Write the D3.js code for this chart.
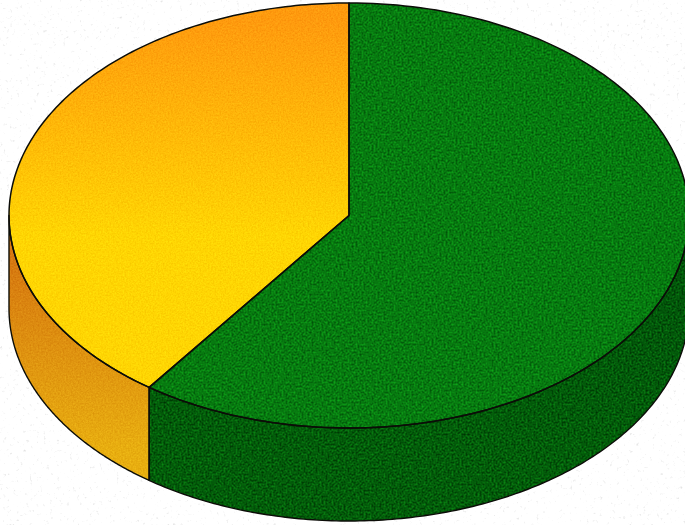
<!DOCTYPE html>
<html>
<head>
<meta charset="utf-8">
<script src="https://cdn.jsdelivr.net/npm/d3@7"></script>
<style>
  html, body { margin: 0; padding: 0; background: #fff; overflow: hidden; }
  svg { display: block; }
</style>
</head>
<body>
<script>
const width = 685,
      height = 525;

const categories = ["Green", "Orange"];
const values = [60, 40];

const topColors = {
    Green: ["#077a10", "#077a10"],
    Orange: ["#ff9a0e", "#ffd503"]
};
const sideColors = {
    Green: ["#02540a", "#035c0a"],
    Orange: ["#d67810", "#e8ae10"]
};

const cx = 349, cy = 215.5,
      rx = 340, ry = 212.5,
      depth = 93;

const svg = d3.select("body").append("svg")
    .attr("width", width)
    .attr("height", height);

const defs = svg.append("defs");

function addGradient(id, stops, y1, y2) {
    const g = defs.append("linearGradient")
        .attr("id", id)
        .attr("gradientUnits", "userSpaceOnUse")
        .attr("x1", 0).attr("x2", 0)
        .attr("y1", y1).attr("y2", y2);
    g.append("stop").attr("offset", 0).attr("stop-color", stops[0]);
    g.append("stop").attr("offset", 1).attr("stop-color", stops[1]);
}

categories.forEach(c => {
    addGradient(`top-${c}`, topColors[c], 20, 235);
    addGradient(`side-${c}`, sideColors[c], 260, 450);
});

// printed grain on the slices, amount per colour channel
function addGrain(id, freq, amounts) {
    const f = defs.append("filter")
        .attr("id", id)
        .attr("filterUnits", "userSpaceOnUse")
        .attr("x", 0).attr("y", 0)
        .attr("width", width).attr("height", height)
        .attr("color-interpolation-filters", "sRGB");
    f.append("feTurbulence")
        .attr("type", "fractalNoise")
        .attr("baseFrequency", freq)
        .attr("numOctaves", 2)
        .attr("seed", 4)
        .attr("result", "noise");
    const row = a => `${a} 0 0 0 ${0.5 - a / 2}`;
    f.append("feColorMatrix")
        .attr("in", "noise")
        .attr("type", "matrix")
        .attr("values", `${row(amounts[0])}  ${row(amounts[1])}  ${row(amounts[2])}  0 0 0 0 1`)
        .attr("result", "grain");
    f.append("feComposite")
        .attr("in", "SourceGraphic")
        .attr("in2", "grain")
        .attr("operator", "arithmetic")
        .attr("k1", 0).attr("k2", 1).attr("k3", 1).attr("k4", -0.5)
        .attr("result", "mixed");
    f.append("feComposite")
        .attr("in", "mixed")
        .attr("in2", "SourceAlpha")
        .attr("operator", "in");
}
addGrain("grain-green", 0.5, [0.08, 0.5, 0.1]);
addGrain("grain-orange", 0.6, [0.1, 0.16, 0.08]);

// faint paper specks
const specks = defs.append("filter")
    .attr("id", "specks")
    .attr("filterUnits", "userSpaceOnUse")
    .attr("x", 0).attr("y", 0)
    .attr("width", width).attr("height", height)
    .attr("color-interpolation-filters", "sRGB");
specks.append("feTurbulence")
    .attr("type", "fractalNoise")
    .attr("baseFrequency", 0.3)
    .attr("numOctaves", 2)
    .attr("seed", 9)
    .attr("result", "noise");
specks.append("feColorMatrix")
    .attr("in", "noise")
    .attr("type", "matrix")
    .attr("values", "0 0 0 0 0.7  0 0 0 0 0.7  0 0 0 0 0.7  1.4 0 0 0 -0.92")
    .attr("result", "dots");
specks.append("feMerge").call(m => {
    m.append("feMergeNode").attr("in", "SourceGraphic");
    m.append("feMergeNode").attr("in", "dots");
});

const x = d3.scaleLinear().domain([-1, 1]).range([cx - rx, cx + rx]);
const y = d3.scaleLinear().domain([-1, 1]).range([cy - ry, cy + ry]);

const pie = d3.pie().sort(null).value(d => d.value);
const slices = pie(categories.map((name, i) => ({name, value: values[i]})));

const rimPoints = (a0, a1) => d3.range(0, 161)
    .map(i => a0 + (a1 - a0) * i / 160)
    .map(a => [x(Math.sin(a)), y(-Math.cos(a))]);

function topPath(d) {
    return d3.line()([[x(0), y(0)], ...rimPoints(d.startAngle, d.endAngle)]) + "Z";
}

// outer wall of a slice: only the part facing the viewer
function sidePath(d) {
    const a0 = Math.max(d.startAngle, Math.PI / 2),
          a1 = Math.min(d.endAngle, 3 * Math.PI / 2);
    const top = rimPoints(a0, a1);
    const bottom = top.slice().reverse().map(p => [p[0], p[1] + depth]);
    return d3.line()(top.concat(bottom)) + "Z";
}

svg.append("rect")
    .attr("width", width)
    .attr("height", height)
    .attr("fill", "#fff")
    .attr("filter", "url(#specks)");

const outline = "#0c0d08";

slices.forEach(d => {
    const name = d.data.name;
    const g = svg.append("g")
        .attr("filter", name === "Green" ? "url(#grain-green)" : "url(#grain-orange)");

    g.append("path")
        .attr("d", sidePath(d))
        .attr("fill", `url(#side-${name})`);

    g.append("path")
        .attr("d", topPath(d))
        .attr("fill", `url(#top-${name})`);
});

// outlines go on last so the grain does not eat them
slices.forEach(d => {
    svg.append("path")
        .attr("d", sidePath(d))
        .attr("fill", "none")
        .attr("stroke", outline)
        .attr("stroke-width", 1.4)
        .attr("stroke-linejoin", "round");

    svg.append("path")
        .attr("d", topPath(d))
        .attr("fill", "none")
        .attr("stroke", outline)
        .attr("stroke-width", 1.5)
        .attr("stroke-linejoin", "round");
});
</script>
</body>
</html>
